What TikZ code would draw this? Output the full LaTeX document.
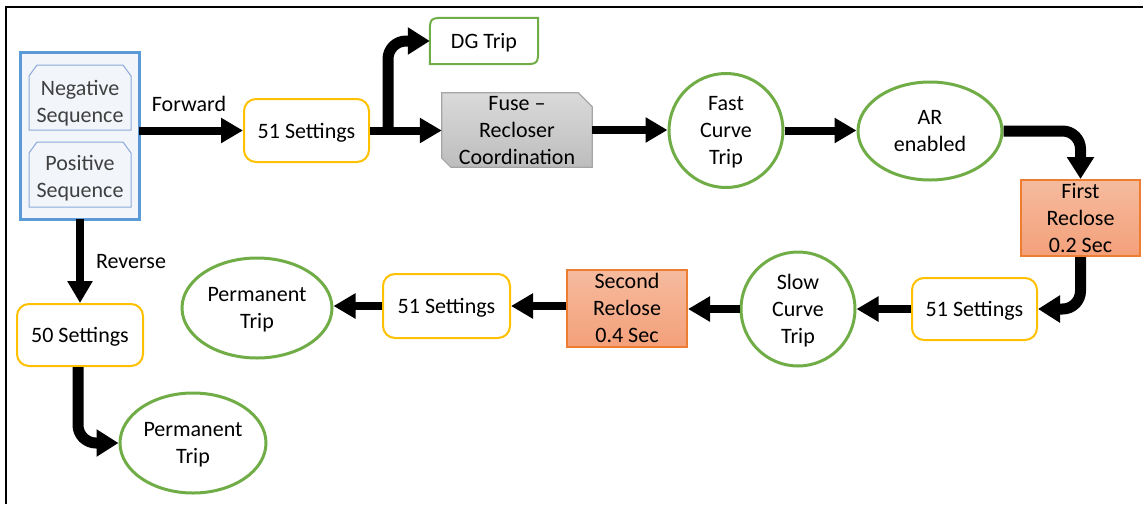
\documentclass[tikz,border=0pt]{standalone}
\usepackage{fontspec}
\setmainfont{Carlito}
\usetikzlibrary{arrows.meta,shapes.geometric,backgrounds,calc}

\definecolor{setyellow}{HTML}{FFC000}
\definecolor{tripgreen}{HTML}{70AD47}
\definecolor{recorange}{HTML}{ED7D31}
\definecolor{rectop}{HTML}{F5BB9E}
\definecolor{recbot}{HTML}{F4A07A}
\definecolor{seqblue}{HTML}{5B9BD5}
\definecolor{seqline}{HTML}{8EA9DB}
\definecolor{seqfill}{HTML}{F2F5FA}
\definecolor{seqtext}{HTML}{404040}
\definecolor{fusetop}{HTML}{DADADA}
\definecolor{fusebot}{HTML}{BDBDBD}
\definecolor{fuseline}{HTML}{A5A5A5}

\begin{document}
\begin{tikzpicture}[x=1pt,y=-1pt,
  font=\fontsize{22}{27}\selectfont,
  every node/.style={text depth=0pt},
  settings/.style={draw=setyellow, line width=2pt, rounded corners=12pt, fill=white,
    minimum width=125pt, minimum height=63pt, align=center, inner sep=0pt},
  trip/.style={ellipse, draw=tripgreen, line width=3pt, fill=white, align=center, inner sep=0pt},
  reclose/.style={draw=recorange, line width=2pt, top color=rectop, bottom color=recbot,
    minimum width=120pt, minimum height=77pt, align=center, inner sep=0pt},
  seqbox/.style={align=center, inner sep=0pt, text=seqtext},
  seqshape/.style={draw=seqline, line width=1pt, fill=seqfill},
  flow/.style={line width=8pt, -{Triangle[length=22pt,width=24pt]}},
  bendflow/.style={line width=11pt, rounded corners=18pt, -{Triangle[length=22pt,width=26pt]}},
  caption/.style={inner sep=0pt}
]
\useasboundingbox (0,0) rectangle (1143,504);

% frame lines along the top and left edges
\draw[line width=2.5pt] (6,504) -- (6,7) -- (1143,7);

% sequence group: outer frame and two snipped boxes
\node[minimum width=118pt, minimum height=166pt, inner sep=0pt] (seq) at (80,136) {};
\node[seqbox] (neg) at (80,101) {Negative\\Sequence};
\node[seqbox] (pos) at (80,176) {Positive\\Sequence};
\begin{scope}[on background layer]
  \draw[draw=seqblue, line width=3pt, fill=seqfill] (seq.north west) rectangle (seq.south east);
  \foreach \top/\bot in {65/130, 142/207}{
    \draw[seqshape] (29,\bot) -- (29,\top+11) -- (37,\top) -- (123,\top) -- (131,\top+11)
      -- (131,\bot) -- cycle;
  }
\end{scope}

% upper row
\node[settings] (s51a) at (306.5,130.5) {51 Settings};
\node[align=center, inner sep=0pt, minimum width=108pt, minimum height=46pt] (dg) at (484,41) {DG Trip};
\begin{scope}[on background layer]
  \draw[draw=tripgreen, line width=2pt, fill=white]
    (dg.south west) -- ($(dg.north west)+(0,17)$) .. controls (dg.north west) .. ($(dg.north west)+(17,0)$)
    -- (dg.north east) -- ($(dg.south east)+(0,-17)$) .. controls (dg.south east) .. ($(dg.south east)+(-17,0)$)
    -- cycle;
\end{scope}

\node[align=center, inner sep=0pt, minimum width=150pt, minimum height=74pt] (fuse) at (517,130)
  {Fuse –\\Recloser\\Coordination};
\begin{scope}[on background layer]
  \draw[draw=fuseline, line width=1.2pt, top color=fusetop, bottom color=fusebot]
    (fuse.north west) -- ($(fuse.north east)+(-14,0)$) -- ($(fuse.north east)+(0,14)$)
    -- (fuse.south east) -- ($(fuse.south west)+(9,0)$) -- ($(fuse.south west)+(0,-9)$) -- cycle;
\end{scope}

\node[trip, circle, minimum size=114pt] (fast) at (726,130.5) {Fast\\Curve\\Trip};
\node[trip, minimum width=144pt, minimum height=98pt] (ar) at (930,131) {AR\\enabled};
\node[reclose, minimum width=119pt, minimum height=76pt] (fr) at (1080.5,218) {First\\Reclose\\0.2 Sec};

% lower row
\node[settings, minimum height=62pt] (s51b) at (974.5,309) {51 Settings};
\node[trip, circle, minimum size=114pt] (slow) at (798,309) {Slow\\Curve\\Trip};
\node[reclose] (sr) at (627,308) {Second\\Reclose\\0.4 Sec};
\node[settings, minimum width=127pt, minimum height=64pt] (s51c) at (446.5,306) {51 Settings};
\node[trip, minimum width=150pt, minimum height=100pt] (pt1) at (257,308) {Permanent\\Trip};

% reverse branch
\node[settings, minimum width=126pt, minimum height=62pt] (s50) at (80,335) {50 Settings};
\node[trip, minimum width=146pt, minimum height=100pt] (pt2) at (193,443) {Permanent\\Trip};

% branch labels
\node[caption] (fwd) at (189,104) {Forward};
\node[caption] (rev) at (131,261) {Reverse};

% connectors
\coordinate (split) at (388,131);
\draw[flow] (seq.east |- s51a.west) -- (s51a.west);
\draw[flow] (s51a.east) -- (fuse.west |- s51a.east);
\draw[bendflow] (split) |- (dg.west);
\draw[flow] (fuse.east) -- (fuse.east -| fast.west);
\draw[flow] (fast.east) -- (fast.east -| ar.west);
\draw[bendflow] (ar.east) -| (fr.north);
\draw[bendflow] (fr.south) |- (s51b.east);
\draw[flow] (s51b.west) -- (slow.east);
\draw[flow] (slow.west) -- (slow.west -| sr.east);
\draw[flow] (sr.west |- s51c.east) -- (s51c.east);
\draw[flow] (s51c.west) -- (s51c.west -| pt1.east);
\draw[flow] (seq.south) -- (s50.north);
\draw[bendflow] ([xshift=-2pt]s50.south) |- (pt2.west);
\end{tikzpicture}
\end{document}
